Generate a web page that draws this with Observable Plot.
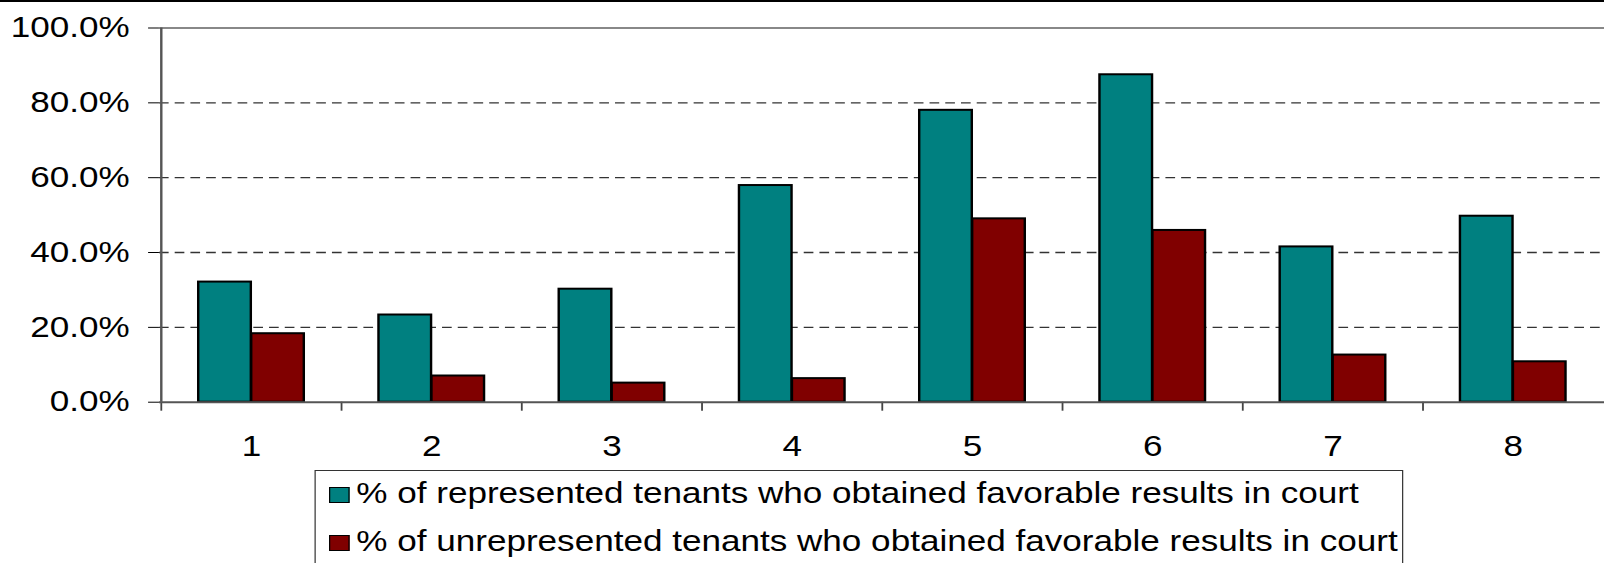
<!DOCTYPE html>
<html><head><meta charset="utf-8">
<script src="https://cdn.jsdelivr.net/npm/d3@7"></script>
<script src="https://cdn.jsdelivr.net/npm/@observablehq/plot@0.6"></script>
<style>
html,body{margin:0;padding:0;background:#fff;overflow:hidden;}
#wrap{position:relative;width:1326px;height:563px;transform:scaleX(1.2097);transform-origin:0 0;font-family:Arial,"Liberation Sans",sans-serif;}
#topline{position:absolute;left:0;top:0;width:100%;height:2px;background:#000;}
#chart{position:absolute;left:0;top:0;}
#legend{position:absolute;left:259.5px;top:470px;width:900px;height:120px;border:1px solid #333;box-sizing:border-box;}
.sw{position:absolute;width:16.5px;height:16px;box-sizing:border-box;border:1.5px solid #000;}
.lt{position:absolute;font-size:29px;line-height:29px;white-space:nowrap;color:#000;}
</style></head><body>
<div id="wrap"><div id="chart"></div><div id="topline"></div><div id="legend"></div></div>
<script>
const categories = ["1","2","3","4","5","6","7","8"];
const represented = [32.1, 23.3, 30.2, 57.9, 78.0, 87.5, 41.5, 49.7];
const unrepresented = [18.3, 7.0, 5.1, 6.3, 49.0, 45.9, 12.6, 10.8];
const seriesNames = ["% of represented tenants who obtained favorable results in court", "% of unrepresented tenants who obtained favorable results in court"];
const seriesColors = ["#008080", "#800000"];
const yTicks = [0, 20, 40, 60, 80, 100];
const gridTicks = [20, 40, 60, 80];
const topTick = [100];

const W = 1326, H = 468, mL = 131.4, mR = 0, mT = 27.5, mB = H - 401.7;
const bw = (W - mL - mR) / categories.length;
const barW = 43.8;
const pad = bw / 2 - barW;
const plotH = H - mT - mB;

const data = categories.map((c, i) => ({cat: c, rep: represented[i], unrep: unrepresented[i]}));

const chart = Plot.plot({
  width: W, height: H, marginLeft: mL, marginRight: mR, marginTop: mT, marginBottom: mB,
  style: {fontSize: "29px", fontFamily: "Arial, 'Liberation Sans', sans-serif", color: "#000", background: "transparent", overflow: "visible"},
  x: {domain: categories, padding: 0, label: null, tickSize: 0, tickPadding: 33},
  y: {domain: [0, 100], ticks: yTicks, tickFormat: d => d.toFixed(1) + "%", label: null, tickSize: 9, tickPadding: 15.6},
  marks: [
    Plot.ruleY(gridTicks, {stroke: "#333", strokeWidth: 1.3, strokeDasharray: "8,5"}),
    Plot.ruleY(topTick, {stroke: "#888", strokeWidth: 2}),
    Plot.barY(data, {x: "cat", y: "rep", fill: seriesColors[0], stroke: "#000", strokeWidth: 2, insetLeft: pad, insetRight: bw / 2}),
    Plot.barY(data, {x: "cat", y: "unrep", fill: seriesColors[1], stroke: "#000", strokeWidth: 2, insetLeft: bw / 2, insetRight: pad}),
    Plot.ruleX(categories, {x: d => d, dx: -bw / 2, insetTop: plotH, insetBottom: -9, stroke: "#444", strokeWidth: 1.5}),
    Plot.ruleX([categories[0]], {x: d => d, dx: -bw / 2, stroke: "#555", strokeWidth: 2}),
    Plot.ruleY([0], {stroke: "#555", strokeWidth: 2})
  ]
});
document.getElementById("chart").appendChild(chart);

const legend = document.getElementById("legend");
seriesNames.forEach((name, i) => {
  const sw = document.createElement("div");
  sw.className = "sw";
  sw.style.left = "11.5px";
  sw.style.top = (15.7 + 48 * i) + "px";
  sw.style.background = seriesColors[i];
  legend.appendChild(sw);
  const t = document.createElement("div");
  t.className = "lt";
  t.style.left = "34px";
  t.style.top = (7.6 + 48 * i) + "px";
  t.textContent = name;
  legend.appendChild(t);
});
</script>
</body></html>
